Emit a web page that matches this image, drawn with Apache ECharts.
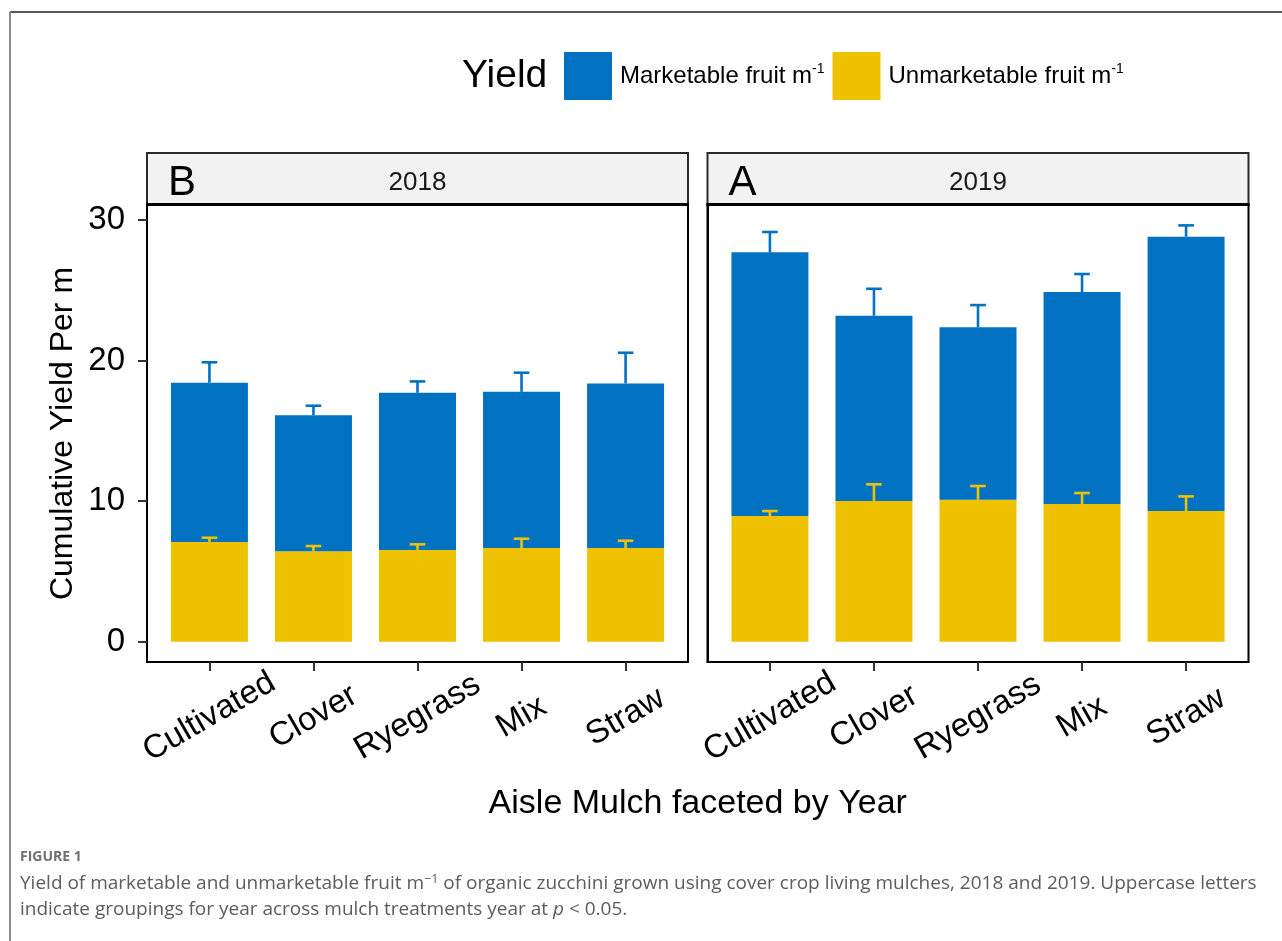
<!DOCTYPE html>
<html>
<head>
<meta charset="utf-8">
<title>Zucchini yield by aisle mulch</title>
<script src="https://cdn.jsdelivr.net/npm/echarts@6/dist/echarts.min.js"></script>
<style>
  html, body { margin: 0; padding: 0; background: #ffffff; }
  #chart { width: 1282px; height: 941px; }
</style>
</head>
<body>
<div id="chart"></div>
<script>
// ---- data -------------------------------------------------------------
const mulches = ['Cultivated', 'Clover', 'Ryegrass', 'Mix', 'Straw'];
const years = ['2018', '2019'];
const groupLetters = ['B', 'A'];

// fruit per metre, one value per mulch (stacked: unmarketable at the bottom)
const unmarketable2018 = [7.09, 6.43, 6.52, 6.67, 6.67];
const marketable2018   = [11.34, 9.68, 11.19, 11.11, 11.71];
const unmarketable2019 = [8.94, 10.01, 10.10, 9.80, 9.30];
const marketable2019   = [18.76, 13.18, 12.27, 15.08, 19.51];

// standard errors (drawn upward only)
const unmarketableSe2018 = [0.31, 0.38, 0.41, 0.66, 0.52];
const marketableSe2018   = [1.45, 0.68, 0.81, 1.36, 2.18];
const unmarketableSe2019 = [0.36, 1.19, 0.98, 0.78, 1.04];
const marketableSe2019   = [1.45, 1.92, 1.58, 1.28, 0.81];

const yTicks = [0, 10, 20, 30];

// ---- styling constants ------------------------------------------------
const BLUE = '#0072C1';
const GOLD = '#EFC200';
const FONT = '"Liberation Sans", Arial, Helvetica, sans-serif';
const MARKETABLE = 'Marketable fruit m-1';
const UNMARKETABLE = 'Unmarketable fruit m-1';

const PANEL_TOP = 205, PANEL_H = 457, PANEL_W = 541;
const PANEL_LEFT = [147, 707.5];
const STRIP_H = 52;
const BAR_WIDTH = 0.74;   // in category units
const CAP_WIDTH = 0.15;
const X_POS = mulches.map((_, i) => i + 1);
const AXIS_FONT = 33;

const panels = [
  { unm: unmarketable2018, mkt: marketable2018, unmSe: unmarketableSe2018, mktSe: marketableSe2018 },
  { unm: unmarketable2019, mkt: marketable2019, unmSe: unmarketableSe2019, mktSe: marketableSe2019 }
];

// ---- render helpers ---------------------------------------------------
function renderBar(params, api) {
  const x = api.value(0);
  const lo = api.coord([x, api.value(1)]);
  const hi = api.coord([x, api.value(2)]);
  const w = api.size([BAR_WIDTH, 0])[0];
  return {
    type: 'rect',
    shape: { x: lo[0] - w / 2, y: hi[1], width: w, height: lo[1] - hi[1] },
    style: { fill: api.visual('color') }
  };
}

function renderError(params, api) {
  const x = api.value(0);
  const a = api.coord([x, api.value(1)]);
  const b = api.coord([x, api.value(2)]);
  const cw = api.size([CAP_WIDTH, 0])[0];
  const color = api.visual('color');
  return {
    type: 'group',
    children: [
      { type: 'line', shape: { x1: a[0], y1: a[1], x2: b[0], y2: b[1] },
        style: { stroke: color, lineWidth: 2.6 } },
      { type: 'line', shape: { x1: b[0] - cw / 2, y1: b[1], x2: b[0] + cw / 2, y2: b[1] },
        style: { stroke: color, lineWidth: 2.6 } }
    ]
  };
}

// ---- assemble ---------------------------------------------------------
const grids = [], xAxes = [], yAxes = [], series = [], graphics = [];

panels.forEach((p, gi) => {
  grids.push({
    left: PANEL_LEFT[gi], top: PANEL_TOP, width: PANEL_W, height: PANEL_H,
    show: true, borderColor: '#000', borderWidth: 2, backgroundColor: 'transparent',
    outerBoundsMode: 'none'
  });

  xAxes.push({
    type: 'value', gridIndex: gi, min: 0.4, max: 5.6,
    axisLine: { show: true, onZero: false, lineStyle: { color: '#000', width: 2 } },
    axisTick: { show: true, customValues: X_POS, length: 9, lineStyle: { color: '#333', width: 2 } },
    axisLabel: {
      show: true, customValues: X_POS, hideOverlap: false,
      formatter: v => mulches[Math.round(v) - 1],
      rotate: 30, align: 'center', verticalAlign: 'middle', margin: 55,
      fontSize: AXIS_FONT, color: '#000', fontFamily: FONT
    },
    splitLine: { show: false }
  });

  yAxes.push({
    type: 'value', gridIndex: gi, min: -1.44, max: 31.07,
    axisLine: { show: true, onZero: false, lineStyle: { color: '#000', width: 2 } },
    axisTick: { show: gi === 0, customValues: yTicks, length: 9, lineStyle: { color: '#333', width: 2 } },
    axisLabel: {
      show: gi === 0, customValues: yTicks, margin: 22,
      fontSize: AXIS_FONT, color: '#000', fontFamily: FONT
    },
    splitLine: { show: false },
    name: gi === 0 ? 'Cumulative Yield Per m' : '',
    nameLocation: 'middle', nameRotate: 90, nameGap: 68,
    nameTextStyle: { fontSize: 32, color: '#000', fontFamily: FONT }
  });

  // stacked bars: unmarketable from 0, marketable on top of it
  const unmBars = X_POS.map((x, i) => [x, 0, p.unm[i]]);
  const mktBars = X_POS.map((x, i) => [x, p.unm[i], p.unm[i] + p.mkt[i]]);
  const unmErr = X_POS.map((x, i) => [x, p.unm[i], p.unm[i] + p.unmSe[i]]);
  const mktErr = X_POS.map((x, i) => [x, p.unm[i] + p.mkt[i], p.unm[i] + p.mkt[i] + p.mktSe[i]]);

  const common = { type: 'custom', xAxisIndex: gi, yAxisIndex: gi, silent: true,
                   encode: { x: 0, y: [1, 2] } };
  series.push(Object.assign({}, common, { name: UNMARKETABLE, itemStyle: { color: GOLD },
                                          renderItem: renderBar, data: unmBars, z: 2 }));
  series.push(Object.assign({}, common, { name: MARKETABLE, itemStyle: { color: BLUE },
                                          renderItem: renderBar, data: mktBars, z: 2 }));
  series.push(Object.assign({}, common, { name: 'se ' + UNMARKETABLE + ' ' + years[gi],
                                          itemStyle: { color: GOLD },
                                          renderItem: renderError, data: unmErr, z: 3 }));
  series.push(Object.assign({}, common, { name: 'se ' + MARKETABLE + ' ' + years[gi],
                                          itemStyle: { color: BLUE },
                                          renderItem: renderError, data: mktErr, z: 3 }));

  // facet strip with year and grouping letter
  const sx = PANEL_LEFT[gi], sy = PANEL_TOP - STRIP_H;
  graphics.push({
    type: 'rect', z: 1,
    shape: { x: sx, y: sy, width: PANEL_W, height: STRIP_H },
    style: { fill: '#f2f2f2', stroke: '#2b2b2b', lineWidth: 2 }
  });
  graphics.push({
    type: 'rect', z: 2,
    shape: { x: sx - 1, y: PANEL_TOP - 2, width: PANEL_W + 2, height: 3 },
    style: { fill: '#000' }
  });
  graphics.push({
    type: 'text', z: 3, x: sx + PANEL_W / 2, y: sy + STRIP_H / 2 + 4,
    style: { text: years[gi], font: '26px ' + FONT, fill: '#1a1a1a',
             align: 'center', verticalAlign: 'middle' }
  });
  graphics.push({
    type: 'text', z: 3, x: sx + 21, y: sy + STRIP_H / 2 + 4,
    style: { text: groupLetters[gi], font: '42px ' + FONT, fill: '#000',
             align: 'left', verticalAlign: 'middle' }
  });
});

// x-axis title across both facets
graphics.push({
  type: 'text', x: (PANEL_LEFT[0] + PANEL_LEFT[1] + PANEL_W) / 2, y: 804,
  style: { text: 'Aisle Mulch faceted by Year', font: '34px ' + FONT, fill: '#000',
           align: 'center', verticalAlign: 'middle' }
});

// legend title
graphics.push({
  type: 'text', x: 462, y: 76,
  style: { text: 'Yield', font: '39px ' + FONT, fill: '#000', align: 'left', verticalAlign: 'middle' }
});

// figure frame
graphics.push({ type: 'line', shape: { x1: 10, y1: 12, x2: 1282, y2: 12 },
                style: { stroke: '#5a5a5a', lineWidth: 2 } });
graphics.push({ type: 'line', shape: { x1: 10, y1: 12, x2: 10, y2: 941 },
                style: { stroke: '#8a8a8a', lineWidth: 2 } });

// caption
const CAP_FONT = '"Open Sans", "Noto Sans", sans-serif';
graphics.push({
  type: 'text', x: 20, y: 857,
  style: { text: 'FIGURE 1', font: 'bold 14px ' + CAP_FONT, fill: '#707070',
           align: 'left', verticalAlign: 'middle' }
});
graphics.push({
  type: 'text', x: 20, y: 884,
  style: {
    text: 'Yield of marketable and unmarketable fruit m{sup|\u22121} of organic zucchini grown using cover crop living mulches, 2018 and 2019. Uppercase letters',
    font: '19px ' + CAP_FONT, fill: '#5c5c5c', align: 'left', verticalAlign: 'middle',
    rich: { sup: { fontSize: 12.5, fontFamily: CAP_FONT, fill: '#5c5c5c', verticalAlign: 'top', lineHeight: 22 } }
  }
});
graphics.push({
  type: 'text', x: 20, y: 910,
  style: {
    text: 'indicate groupings for year across mulch treatments year at {it|p} < 0.05.',
    font: '19px ' + CAP_FONT, fill: '#5c5c5c', align: 'left', verticalAlign: 'middle',
    rich: { it: { fontSize: 19, fontStyle: 'italic', fontFamily: CAP_FONT, fill: '#5c5c5c' } }
  }
});

const chart = echarts.init(document.getElementById('chart'), null, { renderer: 'canvas' });
chart.setOption({
  animation: false,
  backgroundColor: '#ffffff',
  textStyle: { fontFamily: FONT },
  legend: {
    data: [MARKETABLE, UNMARKETABLE],
    left: 564, top: 52, padding: 0,
    orient: 'horizontal',
    icon: 'rect', itemWidth: 48, itemHeight: 48, itemGap: 8,
    selectedMode: false,
    formatter: name => name === MARKETABLE
      ? '{t|Marketable fruit m}{s|-1}'
      : '{t|Unmarketable fruit m}{s|-1}',
    textStyle: {
      rich: {
        t: { fontSize: 24, fontFamily: FONT, color: '#000', padding: [0, 0, 0, 3], lineHeight: 28 },
        s: { fontSize: 14, fontFamily: FONT, color: '#000', verticalAlign: 'top', lineHeight: 14 }
      }
    }
  },
  grid: grids,
  xAxis: xAxes,
  yAxis: yAxes,
  series: series,
  graphic: { elements: graphics }
});
</script>
</body>
</html>
